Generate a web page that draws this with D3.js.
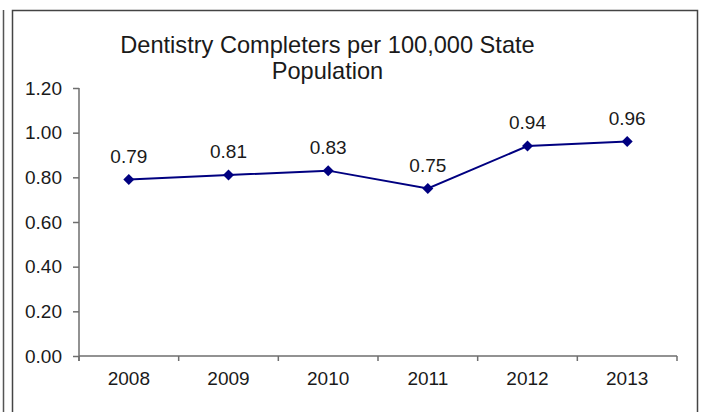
<!DOCTYPE html>
<html>
<head>
<meta charset="utf-8">
<script src="https://cdn.jsdelivr.net/npm/d3@7"></script>
<style>
html,body{margin:0;padding:0;background:#fff;}
svg{display:block;}
text{font-family:"Liberation Sans",Arial,sans-serif;fill:#1a1a1a;}
</style>
</head>
<body>
<svg id="chart" width="704" height="412"></svg>
<script>
const years = ["2008","2009","2010","2011","2012","2013"];
const values = [0.79, 0.81, 0.83, 0.75, 0.94, 0.96];
const yTicks = [0, 0.2, 0.4, 0.6, 0.8, 1.0, 1.2];
const titleLines = ["Dentistry Completers per 100,000 State", "Population"];

const svg = d3.select("#chart");
const axisColor = "#6e6e6e";

// frame lines
svg.append("line").attr("x1",3.5).attr("x2",3.5).attr("y1",10).attr("y2",412).attr("stroke","#555").attr("stroke-width",1.5);
svg.append("path").attr("d","M12.5,412V10.5H697.5V412").attr("fill","none").attr("stroke","#444").attr("stroke-width",1.5);

const x = d3.scaleBand().domain(years).range([79, 677]);
const y = d3.scaleLinear().domain([0, 1.2]).range([356, 88]);

// title
svg.append("text").attr("x",327.5).attr("y",53).attr("text-anchor","middle").attr("font-size","23.6px").text(titleLines[0]);
svg.append("text").attr("x",327.5).attr("y",79).attr("text-anchor","middle").attr("font-size","23.6px").text(titleLines[1]);

// y axis
const yAxis = svg.append("g").attr("transform","translate(79,0)")
  .call(d3.axisLeft(y).tickValues(yTicks).tickFormat(d3.format(".2f")).tickSize(6).tickPadding(11));
yAxis.selectAll("path,line").attr("stroke",axisColor).attr("stroke-width",1.5);
yAxis.select(".domain").attr("d","M0,88V361");
yAxis.selectAll("text").attr("font-size","19px").attr("fill","#1a1a1a").style("font-family",'"Liberation Sans",Arial,sans-serif');

// x axis
const xAxis = svg.append("g").attr("transform","translate(0,356)")
  .call(d3.axisBottom(x).tickSize(0).tickPadding(16));
xAxis.select(".domain").attr("d","M79,0H677").attr("stroke",axisColor).attr("stroke-width",1.5);
xAxis.selectAll("text").attr("font-size","19px").attr("fill","#1a1a1a").style("font-family",'"Liberation Sans",Arial,sans-serif');
// boundary ticks
const bounds = years.map(d => x(d)).concat([x.range()[1]]);
xAxis.selectAll("line.bt").data(bounds).enter().append("line").attr("class","bt")
  .attr("x1",d=>d).attr("x2",d=>d).attr("y1",0).attr("y2",5).attr("stroke",axisColor).attr("stroke-width",1.5);

// line
const cx = d => x(d) + x.bandwidth()/2;
const line = d3.line().x((d,i)=>cx(years[i])).y(d=>y(d));
svg.append("path").datum(values).attr("d",line).attr("fill","none").attr("stroke","#000080").attr("stroke-width",2);

// markers (square diamonds)
const r = 5.5;
svg.selectAll("path.mk").data(values).enter().append("path").attr("class","mk")
  .attr("d", `M0,${-r}L${r},0L0,${r}L${-r},0Z`)
  .attr("transform",(d,i)=>`translate(${cx(years[i])},${y(d)})`)
  .attr("fill","#000080");

// data labels
svg.selectAll("text.lbl").data(values).enter().append("text").attr("class","lbl")
  .attr("x",(d,i)=>cx(years[i])).attr("y",d=>y(d)-17)
  .attr("text-anchor","middle").attr("font-size","19px")
  .text(d=>d.toFixed(2));
</script>
</body>
</html>
